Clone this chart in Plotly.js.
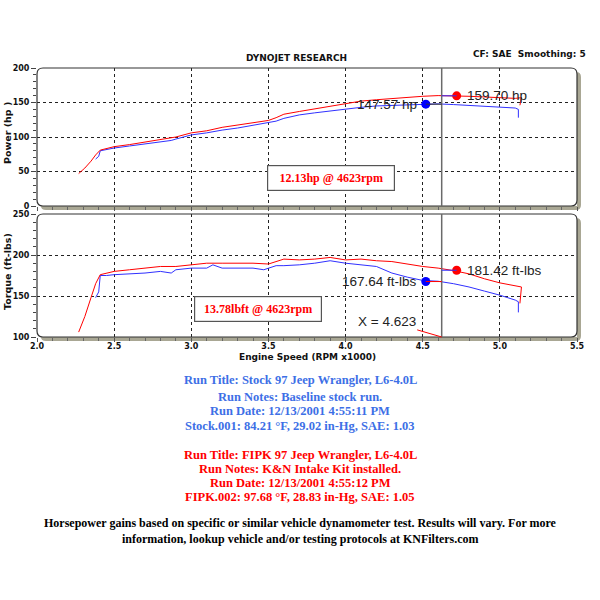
<!DOCTYPE html>
<html>
<head>
<meta charset="utf-8">
<script src="https://cdn.plot.ly/plotly-3.0.1.min.js"></script>
<style>html,body{margin:0;padding:0;background:#fff;}#chart{width:600px;height:600px;}</style>
</head>
<body>
<div id="chart"></div>
<script>
// ---------------- data ----------------
const rpmFIPK = [2.27,2.31,2.35,2.38,2.41,2.45,2.5,2.6,2.7,2.8,2.9,3.0,3.1,3.2,3.3,3.4,3.5,3.55,3.6,3.7,3.8,3.9,4.0,4.1,4.2,4.3,4.4,4.5,4.6,4.7,4.8,4.9,5.0,5.1,5.14,5.13];
const hpFIPK  = [47,55,65,74,81,83,86,89,93,96,100,106,109,114,117,120,124,128,133,137,141,145,149,152,154,156,158,159,160,160,159,158,157,156,157,146];
const tqFIPK  = [106,125,148,165,176,178,180,182,184,186,186,188,190,190,190,190,189,192,195,194,195,197,194,195,193,192,189,186,184,181,177,171,166,162,161,141];

const rpmStock = [2.38,2.40,2.41,2.45,2.5,2.6,2.7,2.8,2.87,2.9,3.0,3.1,3.14,3.2,3.3,3.4,3.47,3.55,3.6,3.7,3.8,3.9,4.0,4.1,4.2,4.3,4.4,4.5,4.6,4.7,4.8,4.9,5.0,5.1,5.12,5.12];
const hpStock  = [68,72,80,82,84,87,90,93,95,97,103,106,108,110,113,117,119,123,127,132,135,138,141,143,145,146,147,147.6,148,147,146,145,143,142,140,128];
const tqStock  = [148,155,175,175,176,177,178,180,178,182,184,184,188,184,184,184,182,187,187,188,190,193,190,188,186,178,173,169,168,165,161,156,151,145,143,130];

const cursorRpm = 4.623;
const markerRpm = [4.72, 4.52];           // FIPK, Stock
const markerHp  = [159.70, 147.57];
const markerTq  = [181.42, 167.64];
const hpLabels  = ["159.70 hp", "147.57 hp"];
const tqLabels  = ["181.42 ft-lbs", "167.64 ft-lbs"];
const gainHp = "12.13hp @ 4623rpm";
const gainTq = "13.78lbft @ 4623rpm";
const cursorLabel = "X = 4.623";

const xTickVals = [2.0,2.5,3.0,3.5,4.0,4.5,5.0,5.5];
const xTickText = ["2.0","2.5","3.0","3.5","4.0","4.5","5.0","5.5"];

const stockLines = ["Run Title: Stock 97 Jeep Wrangler, L6-4.0L","Run Notes: Baseline stock run.","Run Date: 12/13/2001 4:55:11 PM","Stock.001: 84.21 °F, 29.02 in-Hg, SAE: 1.03"];
const fipkLines  = ["Run Title: FIPK 97 Jeep Wrangler, L6-4.0L","Run Notes: K&N Intake Kit installed.","Run Date: 12/13/2001 4:55:12 PM","FIPK.002: 97.68 °F, 28.83 in-Hg, SAE: 1.05"];
const footerLines = ["Horsepower gains based on specific or similar vehicle dynamometer test. Results will vary. For more","information, lookup vehicle and/or testing protocols at KNFilters.com"];

// ---------------- styling ----------------
const RED = "#ff0000", BLUE = "#3030ff", TXTBLUE = "#3d6fe6";
const W = 600, H = 600;
const px = v => v / W, py = v => 1 - v / H;

function rrPath(x0, y0, x1, y1, r) {
  const X = v => px(v).toFixed(5), Y = v => py(v).toFixed(5);
  return `M ${X(x0+r)} ${Y(y0)} L ${X(x1-r)} ${Y(y0)} Q ${X(x1)} ${Y(y0)} ${X(x1)} ${Y(y0+r)} ` +
         `L ${X(x1)} ${Y(y1-r)} Q ${X(x1)} ${Y(y1)} ${X(x1-r)} ${Y(y1)} ` +
         `L ${X(x0+r)} ${Y(y1)} Q ${X(x0)} ${Y(y1)} ${X(x0)} ${Y(y1-r)} ` +
         `L ${X(x0)} ${Y(y0+r)} Q ${X(x0)} ${Y(y0)} ${X(x0+r)} ${Y(y0)} Z`;
}
// L-shaped shadow outside the frame (bottom and right)
function shadowPath(x0, y0, x1, y1, d, r) {
  const X = v => px(v).toFixed(5), Y = v => py(v).toFixed(5);
  return `M ${X(x1)} ${Y(y0+d)} L ${X(x1+d-r)} ${Y(y0+d)} Q ${X(x1+d)} ${Y(y0+d)} ${X(x1+d)} ${Y(y0+d+r)} ` +
         `L ${X(x1+d)} ${Y(y1+d-r)} Q ${X(x1+d)} ${Y(y1+d)} ${X(x1+d-r)} ${Y(y1+d)} ` +
         `L ${X(x0+d+r)} ${Y(y1+d)} Q ${X(x0+d)} ${Y(y1+d)} ${X(x0+d)} ${Y(y1)} ` +
         `L ${X(x1)} ${Y(y1)} Z`;
}

const panels = [[37, 68, 577, 206], [37, 214, 577, 337]];
const shapes = [];
panels.forEach(p => {
  shapes.push({type:"path", xref:"paper", yref:"paper", layer:"below", path: shadowPath(p[0], p[1], p[2], p[3], 4, 5), fillcolor:"#a9a794", line:{width:0}});
  shapes.push({type:"path", xref:"paper", yref:"paper", layer:"above", path: rrPath(p[0], p[1], p[2], p[3], 6), line:{color:"#333", width:1.2}});
});
// cursor lines
shapes.push({type:"line", xref:"x", yref:"y domain", x0:cursorRpm, x1:cursorRpm, y0:0, y1:1, line:{color:"#6a6a6a", width:1.5}});
shapes.push({type:"line", xref:"x2", yref:"y2 domain", x0:cursorRpm, x1:cursorRpm, y0:0, y1:1, line:{color:"#6a6a6a", width:1.5}});
// leader segments between markers and cursor
shapes.push({type:"line", xref:"x", yref:"y", x0:cursorRpm, x1:markerRpm[0], y0:markerHp[0], y1:markerHp[0], line:{color:BLUE, width:1}});
shapes.push({type:"line", xref:"x", yref:"y", x0:markerRpm[1], x1:cursorRpm, y0:markerHp[1], y1:markerHp[1], line:{color:"#333", width:1}});
shapes.push({type:"line", xref:"x2", yref:"y2", x0:cursorRpm, x1:markerRpm[0], y0:markerTq[0], y1:markerTq[0], line:{color:BLUE, width:1}});
shapes.push({type:"line", xref:"x2", yref:"y2", x0:markerRpm[1], x1:cursorRpm, y0:markerTq[1], y1:markerTq[1], line:{color:RED, width:1}});

const traces = [
  {x: rpmStock, y: hpStock, xaxis:"x", yaxis:"y", mode:"lines", line:{color:BLUE, width:1}},
  {x: rpmFIPK, y: hpFIPK, xaxis:"x", yaxis:"y", mode:"lines", line:{color:RED, width:1}},
  {x: rpmStock, y: tqStock, xaxis:"x2", yaxis:"y2", mode:"lines", line:{color:BLUE, width:1}},
  {x: rpmFIPK, y: tqFIPK, xaxis:"x2", yaxis:"y2", mode:"lines", line:{color:RED, width:1}},
  {x: markerRpm, y: markerHp, xaxis:"x", yaxis:"y", mode:"markers", marker:{color:[RED, "#0000ff"], size:9}},
  {x: markerRpm, y: markerTq, xaxis:"x2", yaxis:"y2", mode:"markers", marker:{color:[RED, "#0000ff"], size:9}}
];

const tickFont = {family:"DejaVu Sans", size:8, color:"#111", weight:"bold"};
const xBase = {
  range:[2.0, 5.5], domain:[px(37), px(577)], tickmode:"array", tickvals:xTickVals, ticktext:xTickText,
  showgrid:true, gridcolor:"#222", griddash:"dot", gridwidth:1, zeroline:false, showline:false,
  ticks:"outside", ticklen:4, tickcolor:"#555", tickfont:tickFont, ticklabelstandoff:-3,
  minor:{dtick:0.1, ticks:"outside", ticklen:3, tickcolor:"#666", showgrid:false}
};
const yBase = {
  showgrid:true, gridcolor:"#222", griddash:"dot", gridwidth:1, zeroline:false, showline:false,
  ticks:"outside", ticklen:5, tickcolor:"#444", tickfont:tickFont, dtick:50,
  minor:{dtick:10, ticks:"outside", ticklen:3, tickcolor:"#444", showgrid:false}
};

const annotations = [];
const A = (o) => annotations.push(Object.assign({showarrow:false, xref:"paper", yref:"paper", xanchor:"center", yanchor:"middle"}, o));
A({x:px(296), y:py(58), text:"DYNOJET RESEARCH", font:{family:"DejaVu Sans", size:9, color:"#111", weight:"bold"}});
A({x:px(588), y:py(54), xanchor:"right", text:"CF: SAE  Smoothing: 5", font:{family:"DejaVu Sans", size:9, color:"#111", weight:"bold"}});
A({x:px(7), y:py(133), textangle:-90, text:"Power (hp )", font:{family:"DejaVu Sans", size:9.5, color:"#111", weight:"bold"}});
A({x:px(7), y:py(272), textangle:-90, text:"Torque (ft-lbs)", font:{family:"DejaVu Sans", size:9.5, color:"#111", weight:"bold"}});
A({x:px(307), y:py(357), text:"Engine Speed (RPM x1000)", font:{family:"DejaVu Sans", size:9, color:"#111", weight:"bold"}});

// gain boxes
A({x:px(331), y:py(178), text:gainHp, width:124, height:22, bgcolor:"#fff", bordercolor:"#555", borderwidth:1.2,
   font:{family:"Liberation Serif", size:12, color:RED, weight:"bold"}});
A({x:px(258), y:py(309), text:gainTq, width:124, height:22, bgcolor:"#fff", bordercolor:"#555", borderwidth:1.2,
   font:{family:"Liberation Serif", size:12, color:RED, weight:"bold"}});

// marker labels
const lblFont = {family:"Liberation Sans", size:13.5, color:"#222"};
annotations.push({xref:"x", yref:"y", x:markerRpm[0], y:markerHp[0], xanchor:"left", yanchor:"middle", xshift:8, showarrow:false, text:hpLabels[0], font:lblFont});
annotations.push({xref:"x", yref:"y", x:markerRpm[1], y:markerHp[1], xanchor:"right", yanchor:"middle", xshift:-7, showarrow:false, text:hpLabels[1], font:lblFont});
annotations.push({xref:"x2", yref:"y2", x:markerRpm[0], y:markerTq[0], xanchor:"left", yanchor:"middle", xshift:8, showarrow:false, text:tqLabels[0], font:lblFont});
annotations.push({xref:"x2", yref:"y2", x:markerRpm[1], y:markerTq[1], xanchor:"right", yanchor:"middle", xshift:-7, showarrow:false, text:tqLabels[1], font:lblFont});
annotations.push({xref:"x2", yref:"y2", x:cursorRpm, y:100, showarrow:true, arrowhead:0, arrowwidth:1, arrowcolor:RED,
  ax:-55, ay:-16, text:cursorLabel, font:lblFont});

// run info
const stockY = [380, 397, 411, 426], fipkY = [455, 469, 483, 497], footY = [523, 539];
stockLines.forEach((t,i) => A({x:0.5, y:py(stockY[i]), text:t, font:{family:"Liberation Serif", size:12.5, color:TXTBLUE, weight:"bold"}}));
fipkLines.forEach((t,i) => A({x:0.5, y:py(fipkY[i]), text:t, font:{family:"Liberation Serif", size:12.5, color:RED, weight:"bold"}}));
footerLines.forEach((t,i) => A({x:0.5, y:py(footY[i]), text:t, font:{family:"Liberation Serif", size:12, color:"#000", weight:"bold"}}));

const layout = {
  width:W, height:H, margin:{l:0, r:0, t:0, b:0},
  paper_bgcolor:"#fff", plot_bgcolor:"#fff", showlegend:false,
  xaxis: Object.assign({}, xBase, {anchor:"y", showticklabels:false}),
  yaxis: Object.assign({}, yBase, {range:[0,200], domain:[py(206), py(68)], anchor:"x"}),
  xaxis2: Object.assign({}, xBase, {anchor:"y2"}),
  yaxis2: Object.assign({}, yBase, {range:[100,250], domain:[py(337), py(214)], anchor:"x2"}),
  shapes: shapes, annotations: annotations
};

Plotly.newPlot("chart", traces, layout, {displayModeBar:false, staticPlot:true});
</script>
</body>
</html>
